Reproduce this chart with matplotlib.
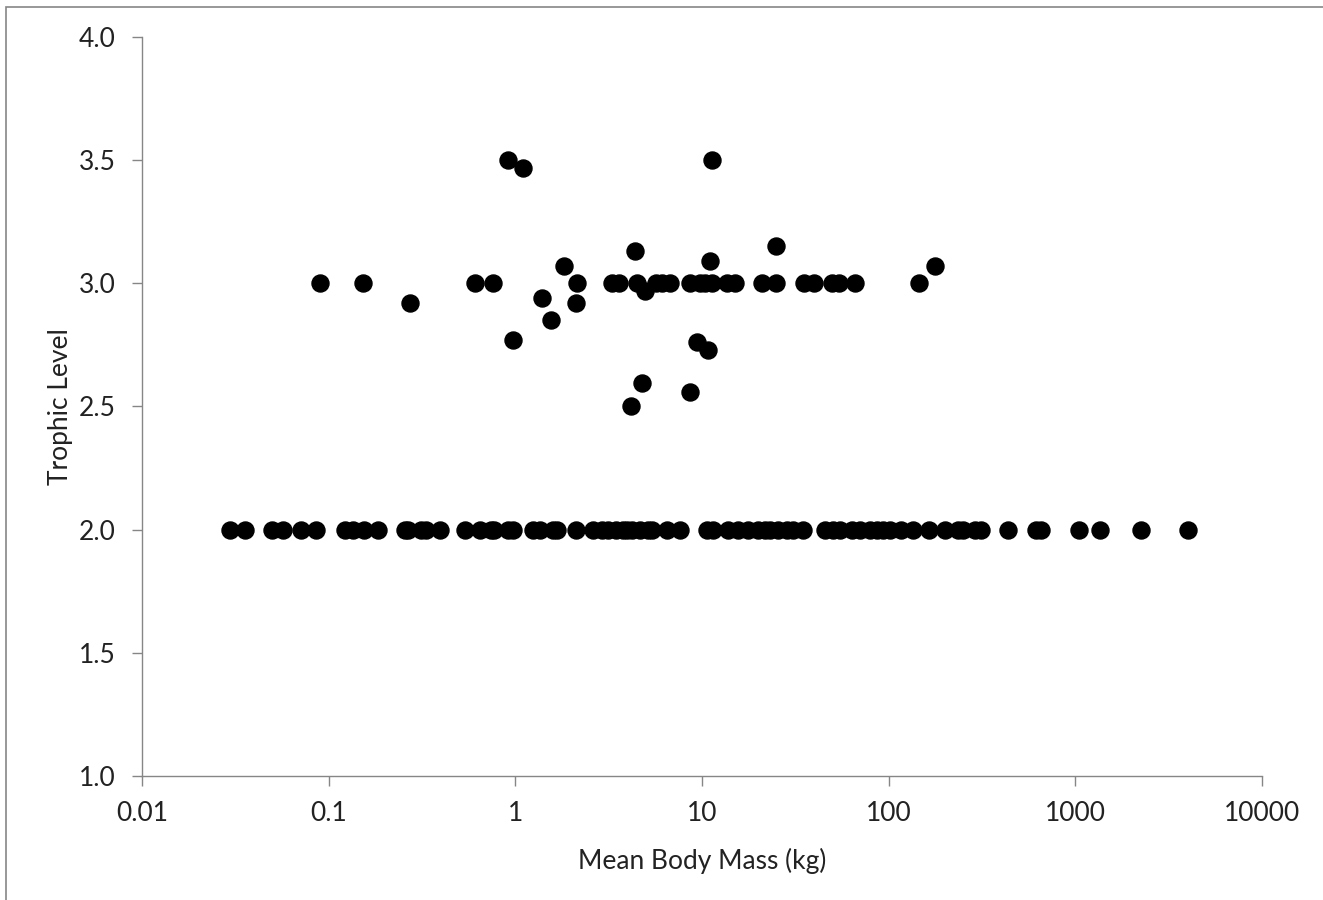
import matplotlib.pyplot as plt
from matplotlib.patches import Rectangle

# ========= Data =========
# species at trophic level 2.0
mass_tl2 = [0.0296, 0.0356, 0.0497, 0.0569, 0.0711, 0.0855, 0.122, 0.135, 0.155, 0.184,
            0.256, 0.266, 0.312, 0.332, 0.395, 0.537, 0.647, 0.741, 0.769, 0.913,
            0.971, 1.24, 1.36, 1.59, 1.67, 2.11, 2.61, 2.91, 3.14, 3.46,
            3.77, 3.96, 4.22, 4.65, 5.14, 5.40, 6.49, 7.62, 10.6, 11.5,
            13.8, 15.6, 17.6, 20.0, 21.7, 23.1, 25.5, 28.5, 30.7, 34.7,
            45.6, 50.3, 54.8, 63.6, 70.2, 79.4, 86.5, 93.3, 102, 116,
            135, 164, 200, 235, 250, 290, 312, 436, 615, 655,
            1047, 1356, 2249, 4014]

# other species (mass, trophic level)
mass_other = [0.0899, 0.152, 0.272, 0.607, 0.757, 0.91, 1.10, 0.97, 1.39, 1.56,
              1.83, 2.11, 2.14, 3.3, 3.6, 4.17, 4.4, 4.5, 4.76, 4.97,
              5.7, 6.1, 6.7, 8.6, 8.6, 9.4, 9.7, 10.4, 10.8, 11.0,
              11.3, 11.3, 13.6, 15.0, 21.0, 25.0, 25.0, 35.0, 40.0, 50.0,
              54.0, 66.0, 145, 178]
tl_other = [3.0, 3.0, 2.92, 3.0, 3.0, 3.5, 3.47, 2.77, 2.94, 2.85,
            3.07, 2.92, 3.0, 3.0, 3.0, 2.50, 3.13, 3.0, 2.595, 2.97,
            3.0, 3.0, 3.0, 2.56, 3.0, 2.76, 3.0, 3.0, 2.73, 3.09,
            3.5, 3.0, 3.0, 3.0, 3.0, 3.15, 3.0, 3.0, 3.0, 3.0,
            3.0, 3.0, 3.0, 3.07]

x_ticks = [0.01, 0.1, 1, 10, 100, 1000, 10000]
x_labels = ["0.01", "0.1", "1", "10", "100", "1000", "10000"]
y_ticks = [1.0, 1.5, 2.0, 2.5, 3.0, 3.5, 4.0]

# ========= Plot =========
plt.rcParams['font.family'] = ['Lato', 'DejaVu Sans']
axis_grey = "#868686"
text_col = "#222222"

fig = plt.figure(figsize=(13.23, 9), dpi=100)
ax = fig.add_axes([0.1073, 0.1378, 0.8466, 0.8211])

ax.scatter(mass_tl2, [2.0] * len(mass_tl2), s=150, color="black", zorder=3)
ax.scatter(mass_other, tl_other, s=150, color="black", zorder=3)

ax.set_xscale("log")
ax.set_xlim(0.01, 10000)
ax.set_ylim(1.0, 4.0)
ax.set_xticks(x_ticks)
ax.set_xticklabels(x_labels)
ax.minorticks_off()
ax.set_yticks(y_ticks)
ax.set_yticklabels([f"{v:.1f}" for v in y_ticks])

for side in ["top", "right"]:
    ax.spines[side].set_visible(False)
for side in ["left", "bottom"]:
    ax.spines[side].set_color(axis_grey)
    ax.spines[side].set_linewidth(1.0)

ax.tick_params(axis="both", colors=axis_grey, length=7, width=1.0,
               labelsize=19, labelcolor=text_col, direction="out")
ax.tick_params(axis="x", pad=11)
ax.tick_params(axis="y", pad=12)

ax.set_xlabel("Mean Body Mass (kg)", fontsize=19, labelpad=16, color=text_col)
ax.set_ylabel("Trophic Level", fontsize=19, labelpad=4, color=text_col)

# chart-area border (runs off the right and bottom of the image)
fig.patches.append(Rectangle((6 / 1323, -0.5), 2.0, 1.5 - 7 / 900,
                             transform=fig.transFigure, fill=False,
                             edgecolor=axis_grey, linewidth=1.2))

fig.savefig("out.png", dpi=100)
